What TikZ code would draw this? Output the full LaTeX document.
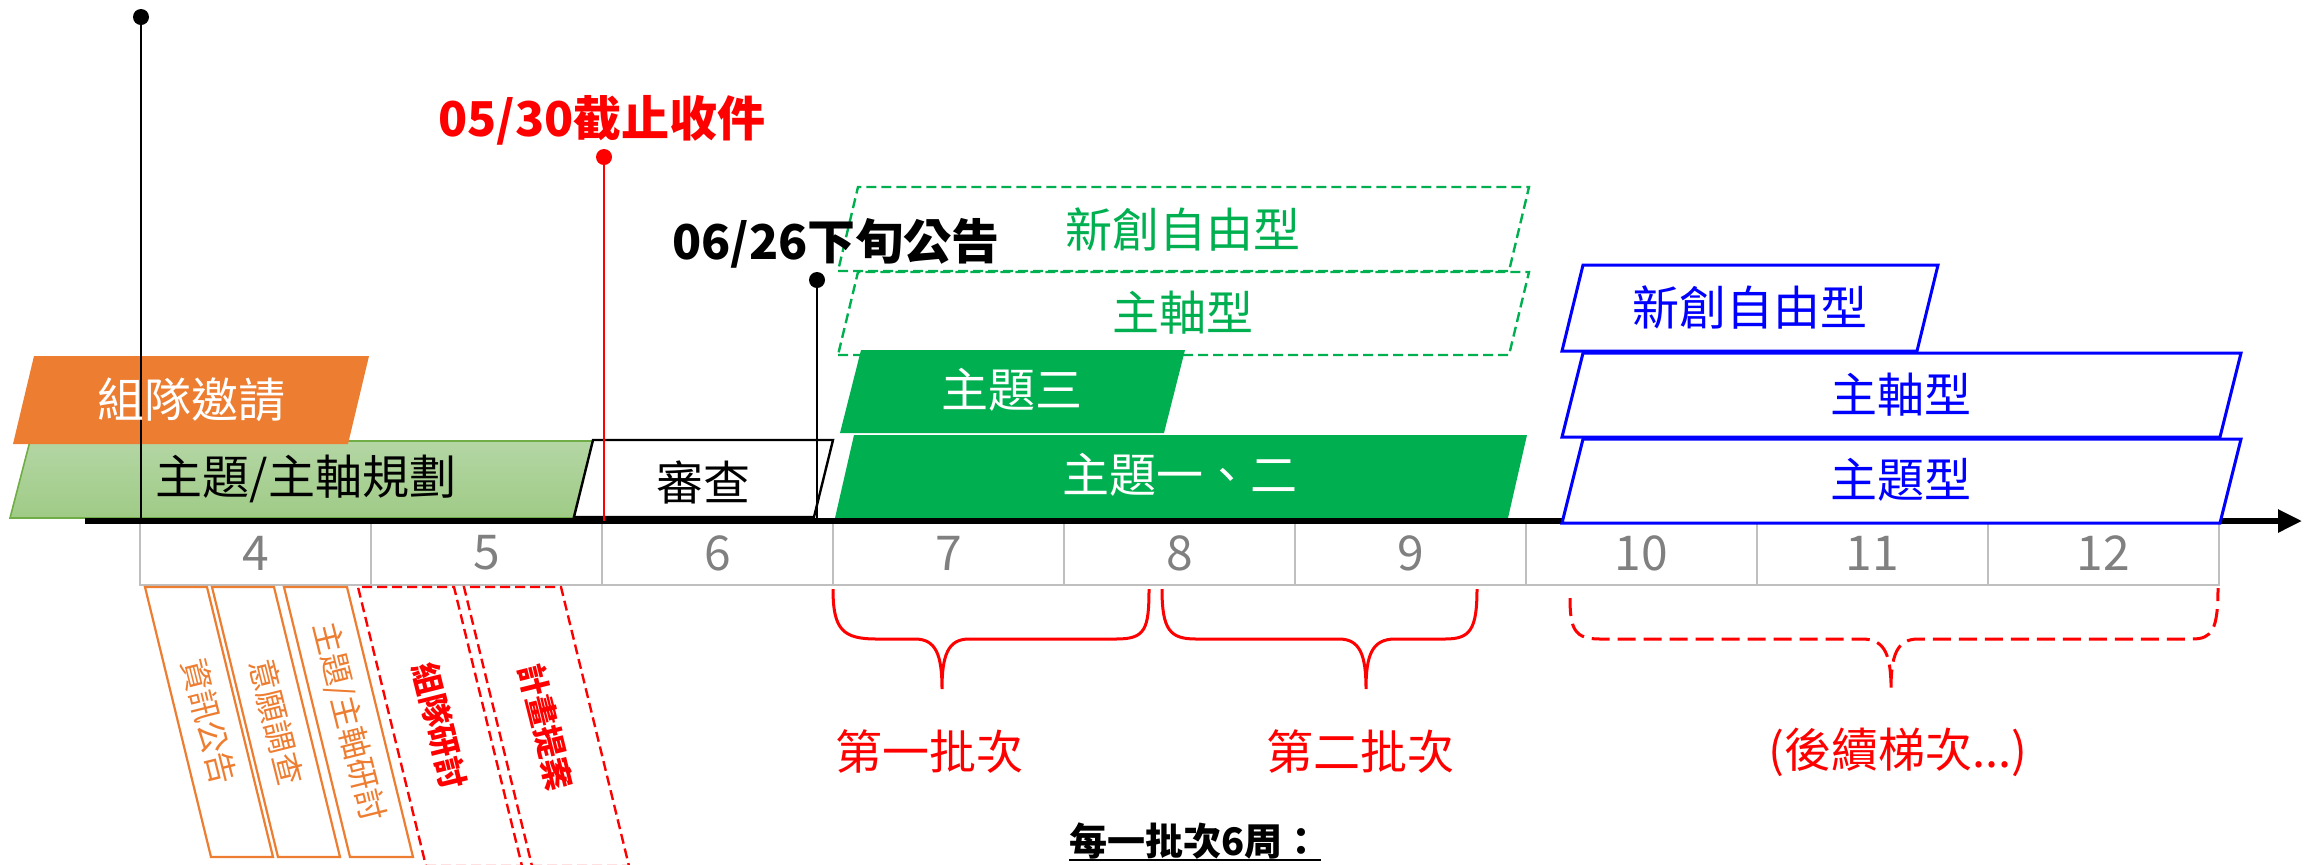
\documentclass[tikz,border=0pt]{standalone}
\usepackage{fontspec}
\setmainfont{Noto Sans CJK TC}
\usetikzlibrary{arrows.meta}
\definecolor{orng}{HTML}{ED7D31}
\definecolor{grn}{HTML}{00B050}
\definecolor{lgtop}{HTML}{B4D6A4}
\definecolor{lgbot}{HTML}{9FCB86}
\definecolor{lgborder}{HTML}{70AD47}
\definecolor{cellgray}{HTML}{BFBFBF}
\definecolor{numgray}{HTML}{808080}
\definecolor{myred}{HTML}{FF0000}
\definecolor{myblue}{HTML}{0000FF}
\newcommand{\fs}[1]{\fontsize{#1}{1.2\dimexpr#1\relax}\selectfont}
% style, x bottom-left, y bottom, y top, width, slant
\newcommand{\pgram}[6]{\path[#1] (#2,#3) -- ({#2+#5},#3) -- ({#2+#5+#6},#4) -- ({#2+#6},#4) -- cycle;}
\begin{document}
\begin{tikzpicture}[x=0.5pt,y=-0.5pt,
  lbl/.style={inner sep=0pt, font=\fs{23.5pt}},
  num/.style={inner sep=0pt, font=\fs{24pt}, text=numgray},
  vtxt/.style={inner sep=0pt, font=\fs{16pt}, rotate=-76},
  dot/.style={circle, fill=#1, inner sep=0pt, minimum size=8pt},
  gdash/.style={draw=grn, line width=1.2pt, dash pattern=on 5pt off 2.5pt},
  gsolid/.style={fill=grn},
  bluebox/.style={draw=myblue, fill=white, line width=1.5pt},
  obox/.style={draw=orng, line width=1.1pt},
  rbox/.style={draw=myred, line width=1.2pt, dash pattern=on 5pt off 2.5pt},
  brace/.style={draw=myred, line width=1.5pt},
  stem/.style={line width=1pt}]
\useasboundingbox (0,0) rectangle (2308,864);
% week table
\draw[cellgray, line width=0.8pt] (140,521) rectangle (2219,585);
\foreach \i in {1,...,8} \draw[cellgray, line width=0.8pt] ({140+231*\i},521) -- ({140+231*\i},585);
\foreach \n [count=\i from 0] in {4,5,6,7,8,9,10,11,12}
  \node[num] (w\n) at ({255.5+231*\i},553) {\n};
% green dashed boxes
\pgram{gdash}{838}{271}{187}{671}{20}
\pgram{gdash}{838}{355}{272}{671}{20}
% left bars
\pgram{top color=lgtop, bottom color=lgbot, draw=lgborder, line width=0.8pt}{10}{518}{441}{563}{20}
\pgram{fill=orng}{13}{444}{356}{335}{21}
\pgram{draw=black, fill=white, line width=1.2pt}{574}{517}{440}{240}{19}
% solid green bars
\pgram{gsolid}{840}{433}{350}{324}{21}
\pgram{gsolid}{835}{518}{435}{673}{19}
% axis
\coordinate (axs) at (85,521);
\coordinate (axe) at (2302,521);
\draw[line width=2.8pt, -{Triangle[length=12pt,width=11pt]}] (axs) -- (axe);
% blue boxes
\pgram{bluebox}{1562}{351}{265}{355}{21}
\pgram{bluebox}{1562}{437}{353}{658}{21}
\pgram{bluebox}{1562}{523}{439}{658}{21}
% milestones
\node[dot=black] (m1) at (141,17) {};
\coordinate (m1b) at (141,521);
\draw[stem] (m1) -- (m1b);
\node[dot=myred] (m2) at (604,157) {};
\coordinate (m2b) at (604,521);
\draw[stem, myred] (m2) -- (m2b);
\node[dot=black] (m3) at (817,280) {};
\coordinate (m3b) at (817,521);
\draw[stem] (m3) -- (m3b);
\node[inner sep=0pt, font=\fs{24pt}\bfseries, text=myred] (d1) at (602,120) {05/30截止收件};
\node[inner sep=0pt, font=\fs{24pt}\bfseries] (d2) at (836,243) {06/26下旬公告};
% bar labels
\node[lbl, text=white] (t1) at (191,400) {組隊邀請};
\node[lbl] (t2) at (306,479) {主題/主軸規劃};
\node[lbl] (t3) at (703,482) {審查};
\node[lbl, text=grn] (t4) at (1183,230) {新創自由型};
\node[lbl, text=grn] (t5) at (1183,313) {主軸型};
\node[lbl, text=white] (t6) at (1012,390) {主題三};
\node[lbl, text=white] (t7) at (1180,475) {主題一、二};
\node[lbl, text=myblue] (t8) at (1750,308) {新創自由型};
\node[lbl, text=myblue] (t9) at (1901,395) {主軸型};
\node[lbl, text=myblue] (t10) at (1901,480) {主題型};
% lower slanted boxes
\pgram{obox}{211}{857}{587}{62}{-66}
\pgram{obox}{278}{857}{587}{62}{-66}
\pgram{obox}{350}{857}{587}{63}{-66}
\pgram{rbox}{426}{866}{587}{96}{-68}
\pgram{rbox}{532}{866}{587}{97}{-68}
\node[vtxt, text=orng] (v1) at (209,722) {資訊公告};
\node[vtxt, text=orng] (v2) at (276.5,722) {意願調查};
\node[vtxt, text=orng] (v3) at (348.5,722) {主題/主軸研討};
\node[vtxt, text=myred, font=\fs{16pt}\bfseries] (v4) at (440,726) {組隊研討};
\node[vtxt, text=myred, font=\fs{16pt}\bfseries] (v5) at (546,727) {計畫提案};
% braces
\path[brace] (833,589) .. controls (833,630) and (843,639) .. (877,639) -- (915,639)
  .. controls (936,639) and (942,655) .. (942,689)
  .. controls (942,655) and (948,639) .. (969,639) -- (1116,639)
  .. controls (1145,639) and (1149,630) .. (1149,589);
\path[brace] (1162,589) .. controls (1162,630) and (1170,639) .. (1196,639) -- (1339,639)
  .. controls (1360,639) and (1366,655) .. (1366,689)
  .. controls (1366,655) and (1372,639) .. (1395,639) -- (1445,639)
  .. controls (1470,639) and (1477,630) .. (1477,589);
\path[brace, dash pattern=on 9pt off 4pt] (1570,598) .. controls (1570,630) and (1575,639) .. (1600,639) -- (1862,639)
  .. controls (1885,639) and (1891,655) .. (1891,689)
  .. controls (1891,655) and (1897,639) .. (1918,639) -- (2192,639)
  .. controls (2212,639) and (2218,630) .. (2218,588);
\node[lbl, text=myred] (b1) at (929,752) {第一批次};
\node[lbl, text=myred] (b2) at (1360,752) {第二批次};
\node[lbl, text=myred] (b3) at (1898,752) {(後續梯次...)};
\node[inner sep=0pt, font=\fs{19pt}\bfseries, anchor=base] (note) at (1195,855) {每一批次6周：};
\draw[line width=1pt] ([yshift=-2.5pt]note.base west) -- ([yshift=-2.5pt]note.base east);
\end{tikzpicture}
\end{document}
